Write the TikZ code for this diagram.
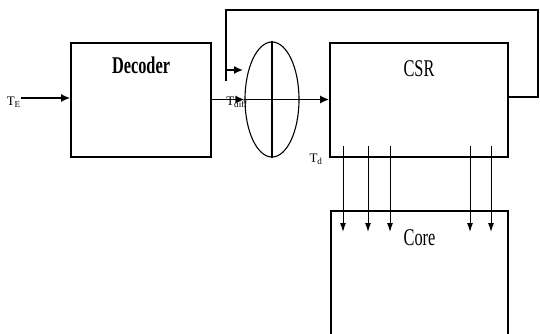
\documentclass[tikz,border=0pt]{standalone}
\usepackage{amsmath,amssymb}
\usepackage{fontspec}
\setmainfont{Liberation Serif}
\newfontfamily\boxfont[FakeStretch=0.68]{Liberation Serif}
\usepackage{tikz}
\usetikzlibrary{positioning,shapes.geometric,arrows.meta}

\begin{document}
\begin{tikzpicture}[x=1pt,y=-1pt,
    blk/.style={draw,line width=1.6pt,inner sep=0pt},
    ttl/.style={font=\boxfont\fontsize{24}{26}\selectfont,inner sep=0pt},
    sig/.style={font=\fontsize{13}{14}\selectfont,inner sep=0pt},
    arr/.style={-{Latex[length=9pt,width=8pt]},line width=1.6pt},
    ln/.style={line width=1.6pt}]
    \useasboundingbox (0,0) rectangle (540,334);

    % 三个方框
    \node[blk,minimum width=140pt,minimum height=114pt] (dec) at (141,100) {};
    \node[blk,minimum width=178pt,minimum height=114pt] (csr) at (419,100) {};
    \node[inner sep=0pt,minimum width=177pt,minimum height=123pt] (core) at (419.5,272.5) {};
    \draw[ln] (core.south west) |- (core.north) -| (core.south east);

    % 方框标题
    \node[ttl,below=14pt of dec.north] {\bfseries Decoder};
    \node[ttl,below=18pt of csr.north] {CSR};
    \node[ttl,below=19pt of core.north] {Core};

    % 椭圆
    \node[draw,ellipse,line width=1.1pt,inner sep=0pt,minimum width=54pt,minimum height=115pt] (sum) at (272,99.5) {};
    \draw[line width=1.1pt] (sum.north) -- (sum.south);
    \draw[ln] (sum.west) -- (sum.east);

    % 输入与连线
    \coordinate (in) at (21,98);
    \draw[arr] (in) -- (dec.west |- in);
    \draw[arr] (dec.east |- sum.west) -- (sum.west);
    \draw[arr] (sum.east) -- (csr.west |- sum.east);

    % 反馈
    \coordinate (fbr) at (538,97);
    \coordinate (fbl) at (226,10);
    \coordinate (fbe) at (226,81);
    \coordinate (fbt) at (243,70);
    \draw[ln] (csr.east |- fbr) -- (fbr) |- (fbl) -- (fbe);
    \draw[arr] (fbl |- fbt) -- (fbt);

    % 信号标签
    \node[sig,anchor=east] (te) at (21,102) {T$_{\text{E}}$};
    \node[sig] (tdiff) at (237,102) {T$_{\text{diff}}$};
    \node[sig] (td) at (316,159) {T$_{\text{d}}$};

    % 向下箭头
    \foreach \x in {343,368,390,470,491}
        \draw[-{Latex[length=9pt,width=6pt]},line width=1pt] (\x,146) -- (\x,232);
\end{tikzpicture}
\end{document}
